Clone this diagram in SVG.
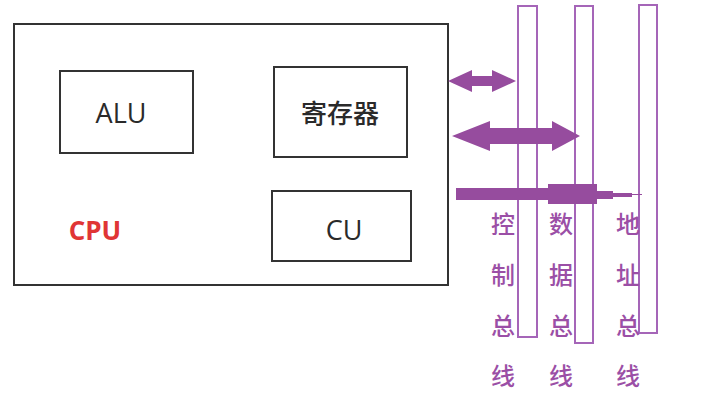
<svg xmlns="http://www.w3.org/2000/svg" width="702" height="400" viewBox="0 0 702 400">
<style>
.box{fill:none;stroke:#333;stroke-width:2}
.bus{fill:none;stroke:#a565b8;stroke-width:2}
.lbl{font-family:"Open Sans","Liberation Sans","Noto Sans CJK SC",sans-serif;font-size:27px;fill:#2a2a2a;text-anchor:middle}
.cjk{font-family:"Noto Sans CJK SC",sans-serif;font-size:26px;fill:#2a2a2a;text-anchor:middle;font-weight:500}
.bl{font-family:"Noto Sans CJK SC",sans-serif;font-size:24px;fill:#9b4fa6;text-anchor:middle;font-weight:500}
.arr{fill:#964c9e}
</style>
<rect width="702" height="400" fill="#fff"/>
<g id="cpu">
<rect class="box" x="14" y="24" width="434" height="261"/>
<text x="95" y="240" font-family="'Open Sans','Liberation Sans',sans-serif" font-size="26" font-weight="bold" fill="#e03535" text-anchor="middle">CPU</text>
</g>
<g id="alu">
<rect class="box" x="60" y="71" width="133" height="82"/>
<text class="lbl" x="121" y="123">ALU</text>
</g>
<g id="reg">
<rect class="box" x="274" y="67" width="133" height="90"/>
<text class="cjk" x="340" y="123">寄存器</text>
</g>
<g id="cu">
<rect class="box" x="272" y="191" width="139" height="70"/>
<text class="lbl" x="344" y="240">CU</text>
</g>
<g id="control-bus">
<rect class="bus" x="518" y="6" width="19" height="331"/>
<text class="bl" x="503" y="233">控</text>
<text class="bl" x="503" y="284">制</text>
<text class="bl" x="503" y="335">总</text>
<text class="bl" x="503" y="385">线</text>
</g>
<g id="data-bus">
<rect class="bus" x="575" y="6" width="18" height="337"/>
<text class="bl" x="561" y="233">数</text>
<text class="bl" x="561" y="284">据</text>
<text class="bl" x="561" y="335">总</text>
<text class="bl" x="561" y="385">线</text>
</g>
<g id="address-bus">
<rect class="bus" x="639" y="5" width="18" height="328"/>
<text class="bl" x="628" y="233">地</text>
<text class="bl" x="628" y="284">址</text>
<text class="bl" x="628" y="335">总</text>
<text class="bl" x="628" y="385">线</text>
</g>
<g id="connectors">
<polygon class="arr" points="448,81 472,70 472,76 492,76 492,70 516,81 492,92 492,86 472,86 472,92"/>
<polygon class="arr" points="452,136 490,121 490,128 552,128 552,121 580,136 552,151 552,144 490,144 490,151"/>
<polygon class="arr" points="456,188 548,188 548,184 597,184 597,191 613,191 613,193 632,193 632,194 642,194 642,195 632,195 632,197 613,197 613,199 597,199 597,204 548,204 548,200 456,200"/>
</g>
</svg>
